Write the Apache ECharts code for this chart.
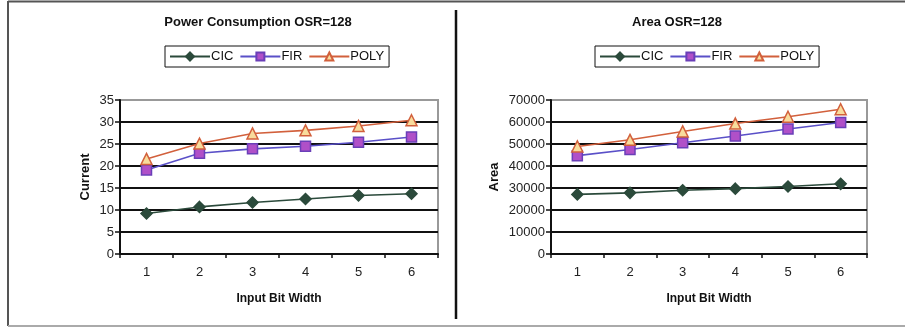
<!DOCTYPE html>
<html>
<head>
<meta charset="utf-8">
<script src="https://cdn.jsdelivr.net/npm/echarts@6/dist/echarts.min.js"></script>
<style>
  html, body { margin: 0; padding: 0; background: #fff; }
  #chart { width: 905px; height: 327px; }
</style>
</head>
<body>
<div id="chart"></div>
<script>
// Input bit widths on the x axis of both panels
const bitWidths = ['1', '2', '3', '4', '5', '6'];

// Power consumption (current) per filter type
const powerCIC = [9.2, 10.7, 11.7, 12.5, 13.3, 13.7];
const powerFIR = [19.1, 22.9, 23.9, 24.5, 25.4, 26.6];
const powerPOLY = [21.6, 25.1, 27.4, 28.1, 29.1, 30.4];

// Silicon area per filter type
const areaCIC = [27100, 27800, 29000, 29700, 30700, 31900];
const areaFIR = [44700, 47500, 50600, 53600, 56800, 59800];
const areaPOLY = [48900, 51900, 55700, 59300, 62400, 65800];

const seriesNames = ['CIC', 'FIR', 'POLY'];

const FONT = '"Liberation Sans", Arial, sans-serif';

const styles = {
  CIC: { line: '#2b4a3b', symbol: 'diamond', size: 11, fill: '#2b4a3b', border: '#2b4a3b' },
  FIR: { line: '#5a50c8', symbol: 'rect', size: 10, fill: '#b050c8', border: '#6a3fb8' },
  POLY: { line: '#d2603c', symbol: 'triangle', size: 11, fill: '#f8dc9c', border: '#d2603c' }
};

function makeSeries(name, data, idx) {
  const s = styles[name];
  return {
    name: name,
    type: 'line',
    xAxisIndex: idx,
    yAxisIndex: idx,
    data: data,
    symbol: s.symbol,
    symbolSize: s.size,
    lineStyle: { color: s.line, width: 1.6 },
    itemStyle: { color: s.fill, borderColor: s.border, borderWidth: 1.5 },
    emphasis: { disabled: true },
    animation: false,
    z: 5
  };
}

const gridLeft = [120, 551];
const gridWidth = [318, 316];

function xAxis(idx) {
  return {
    type: 'category',
    gridIndex: idx,
    data: bitWidths,
    boundaryGap: true,
    axisLine: { lineStyle: { color: '#111', width: 2 } },
    axisTick: { show: true, length: 4, lineStyle: { color: '#111', width: 1.5 } },
    axisLabel: { color: '#222', fontSize: 13, fontFamily: FONT, margin: 12 },
    name: 'Input Bit Width',
    nameLocation: 'middle',
    nameGap: 39,
    nameTextStyle: { color: '#111', fontSize: 12, fontWeight: 'bold', fontFamily: FONT },
    splitLine: { show: false }
  };
}

// gridlines are black, except the topmost one which is part of the grey plot frame
const gridColors = ['#111', '#111', '#111', '#111', '#111', '#111', '#111', '#999'];

function yAxis(idx, max, interval, name, gap) {
  return {
    type: 'value',
    gridIndex: idx,
    min: 0,
    max: max,
    interval: interval,
    axisLine: { show: true, lineStyle: { color: '#111', width: 2 } },
    axisTick: { show: true, length: 5, lineStyle: { color: '#111', width: 1.5 } },
    axisLabel: { color: '#222', fontSize: 13, fontFamily: FONT, margin: 6, formatter: v => String(v) },
    splitLine: { show: true, lineStyle: { color: gridColors, width: 2 } },
    name: name,
    nameLocation: 'middle',
    nameGap: gap,
    nameTextStyle: { color: '#111', fontSize: 13, fontWeight: 'bold', fontFamily: FONT }
  };
}

function legend(idx, centerX) {
  return {
    data: seriesNames,
    left: centerX - 113,
    top: 46,
    orient: 'horizontal',
    itemGap: 6,
    itemWidth: 40,
    itemHeight: 10,
    padding: [4, 5, 4, 4],
    borderColor: '#111',
    borderWidth: 1,
    textStyle: { color: '#111', fontSize: 13, fontFamily: FONT, padding: [0, 0, 0, -4] },
    selectedMode: false
  };
}

const chart = echarts.init(document.getElementById('chart'), null, { renderer: 'canvas' });

chart.setOption({
  backgroundColor: '#fff',
  animation: false,
  title: [
    {
      text: 'Power Consumption OSR=128',
      left: 253, top: 11, textAlign: 'center',
      textStyle: { color: '#111', fontSize: 13, fontWeight: 'bold', fontFamily: FONT }
    },
    {
      text: 'Area OSR=128',
      left: 672, top: 11, textAlign: 'center',
      textStyle: { color: '#111', fontSize: 13, fontWeight: 'bold', fontFamily: FONT }
    }
  ],
  legend: [legend(0, 278), legend(1, 708)],
  grid: [
    { left: gridLeft[0], top: 100, width: gridWidth[0], height: 154, show: true, borderColor: '#999', borderWidth: 2, backgroundColor: '#fff' },
    { left: gridLeft[1], top: 100, width: gridWidth[1], height: 154, show: true, borderColor: '#999', borderWidth: 2, backgroundColor: '#fff' }
  ],
  xAxis: [xAxis(0), xAxis(1)],
  yAxis: [
    yAxis(0, 35, 5, 'Current', 28),
    yAxis(1, 70000, 10000, 'Area', 50)
  ],
  series: [
    makeSeries('CIC', powerCIC, 0),
    makeSeries('FIR', powerFIR, 0),
    makeSeries('POLY', powerPOLY, 0),
    makeSeries('CIC', areaCIC, 1),
    makeSeries('FIR', areaFIR, 1),
    makeSeries('POLY', areaPOLY, 1)
  ],
  graphic: [
    // frame around the figure
    { type: 'line', shape: { x1: 8, y1: 1.5, x2: 905, y2: 1.5 }, style: { stroke: '#555', lineWidth: 2 }, silent: true },
    { type: 'line', shape: { x1: 8, y1: 1, x2: 8, y2: 326 }, style: { stroke: '#555', lineWidth: 2 }, silent: true },
    { type: 'line', shape: { x1: 8, y1: 326, x2: 905, y2: 326 }, style: { stroke: '#aaa', lineWidth: 2 }, silent: true },
    // divider between the two panels
    { type: 'line', shape: { x1: 456, y1: 10, x2: 456, y2: 319 }, style: { stroke: '#111', lineWidth: 2.5 }, silent: true }
  ]
});
</script>
</body>
</html>
